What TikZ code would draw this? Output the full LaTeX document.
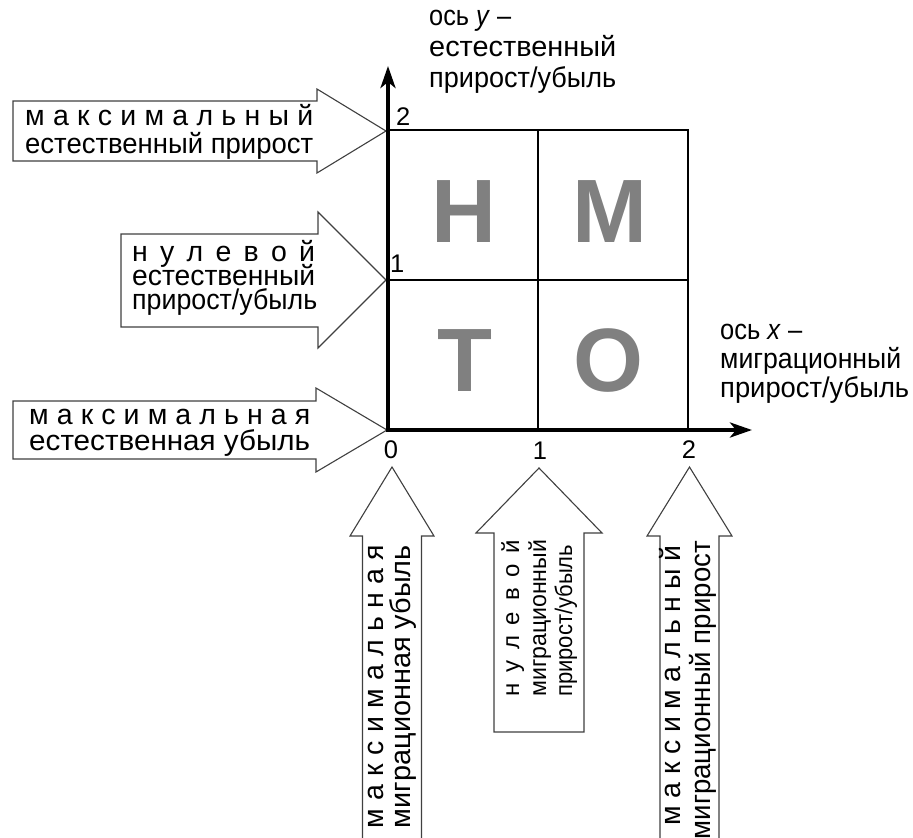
\documentclass[tikz,border=0pt]{standalone}
\usepackage{fontspec}
\usepackage{graphicx}
\setmainfont{Liberation Sans}
\usetikzlibrary{arrows.meta}
\newcommand\spreadto[2]{\makebox[#1][s]{#2}}
\newcommand\fitto[2]{\resizebox{#1}{\height}{#2}}
\begin{document}
\begin{tikzpicture}[x=1pt,y=-1pt,
  bigarrow/.style={draw=black!75, line width=1.1pt, fill=white, line join=miter},
  lbl/.style={inner sep=0pt, font=\fontsize{28.5}{31}\selectfont},
  lblsmall/.style={inner sep=0pt, font=\fontsize{24}{27}\selectfont},
  num/.style={inner sep=0pt, font=\fontsize{25.5}{28}\selectfont},
  bigletter/.style={inner sep=0pt, text=black!50, font=\fontsize{90}{90}\selectfont\bfseries},
  gridline/.style={line width=2pt, black},
  axisline/.style={line width=3.8pt, black, -{Stealth[length=22pt,width=15pt,inset=6pt]}}]
\useasboundingbox (0,0) rectangle (913,838);
\clip (0,0) rectangle (913,838);

% coordinates
\coordinate (O) at (388,430);
\coordinate (Ytop) at (388,130);
\coordinate (Xright) at (688,430);
\coordinate (TR) at (688,130);
\coordinate (Xmid) at (538,430);
\coordinate (Xmidtop) at (538,130);
\coordinate (Ymid) at (388,280);
\coordinate (Ymidright) at (688,280);
\coordinate (Ytip) at (388,66);
\coordinate (Xtip) at (752,430);
\coordinate (Ystart) at (388,432);
\coordinate (Xstart) at (386,430);

% left arrows
\draw[bigarrow] (13,101) -- (317,101) -- (317,89) -- (386,131) -- (317,173) -- (317,161) -- (13,161) -- cycle;
\draw[bigarrow] (121,234) -- (318,234) -- (318,212) -- (386,280) -- (318,348) -- (318,327) -- (121,327) -- cycle;
\draw[bigarrow] (13,401) -- (316,401) -- (316,388) -- (387,430) -- (316,472) -- (316,459) -- (13,459) -- cycle;

% bottom arrows
\draw[bigarrow] (362.5,850) -- (362.5,536) -- (350,536) -- (392,467) -- (434,536) -- (421.5,536) -- (421.5,850) -- cycle;
\draw[bigarrow] (494,732) -- (494,533) -- (476,533) -- (539,468) -- (602,533) -- (584,533) -- (584,732) -- cycle;
\draw[bigarrow] (660,850) -- (660,536) -- (647,536) -- (689.5,467) -- (732,536) -- (719,536) -- (719,850) -- cycle;

% grid
\draw[gridline] (Ytop) -- (TR) -- (Xright);
\draw[gridline] (Xmidtop) -- (Xmid);
\draw[gridline] (Ymid) -- (Ymidright);

% axes
\draw[axisline] (Ystart) -- (Ytip);
\draw[axisline] (Xstart) -- (Xtip);

% big letters
\node[bigletter, anchor=base] (H) at (464,242) {Н};
\node[bigletter, anchor=base] (M) at (610,242) {М};
\node[bigletter, anchor=base] (T) at (465,391) {Т};
\node[bigletter, anchor=base] (Ob) at (608,391) {О};

% numbers
\node[num, anchor=base west] (y2) at (396,125) {2};
\node[num, anchor=base west] (y1) at (390,272) {1};
\node[num, anchor=base] (x0) at (391,458) {0};
\node[num, anchor=base] (x1) at (540,459) {1};
\node[num, anchor=base] (x2) at (689,458) {2};

% axis labels
\node[lbl, anchor=base west] (ya) at (429,25) {\fitto{82pt}{ось \textit{y} –}};
\node[lbl, anchor=base west] (yb) at (429,56) {\fitto{187pt}{естественный}};
\node[lbl, anchor=base west] (yc) at (429,87) {\fitto{187pt}{прирост/убыль}};
\node[lbl, anchor=base west] (xa) at (720,339) {\fitto{82pt}{ось \textit{x} –}};
\node[lbl, anchor=base west] (xb) at (720,368) {\fitto{181pt}{миграционный}};
\node[lbl, anchor=base west] (xc) at (720,397) {\fitto{189pt}{прирост/убыль}};

% left arrow texts
\node[lbl, anchor=base west] (l1a) at (25,125) {\spreadto{288pt}{м а к с и м а л ь н ы й}};
\node[lbl, anchor=base west] (l1b) at (25,153) {\fitto{288pt}{естественный прирост}};
\node[lbl, anchor=base west] (l2a) at (132,261) {\spreadto{183pt}{н у л е в о й}};
\node[lbl, anchor=base west] (l2b) at (132,285) {\fitto{183pt}{естественный}};
\node[lbl, anchor=base west] (l2c) at (132,309) {\fitto{185pt}{прирост/убыль}};
\node[lbl, anchor=base west] (l3a) at (29,424) {\spreadto{281pt}{м а к с и м а л ь н а я}};
\node[lbl, anchor=base west] (l3b) at (29,450) {\fitto{281pt}{естественная убыль}};

% bottom arrow texts
\node[lbl, rotate=90, anchor=base east] (b1a) at (383,545) {\spreadto{283pt}{м а к с и м а л ь н а я}};
\node[lbl, rotate=90, anchor=base east] (b1b) at (410,545) {\fitto{283pt}{миграционная убыль}};
\node[lblsmall, rotate=90, anchor=base west] (b2a) at (519,697) {\spreadto{157pt}{н у л е в о й}};
\node[lblsmall, rotate=90, anchor=base west] (b2b) at (546,697) {\fitto{157pt}{миграционный}};
\node[lblsmall, rotate=90, anchor=base west] (b2c) at (572,697) {\fitto{152pt}{прирост/убыль}};
\node[lbl, rotate=90, anchor=base east] (b3a) at (680,545) {\spreadto{280pt}{м а к с и м а л ь н ы й}};
\node[lbl, rotate=90, anchor=base east] (b3b) at (710,541) {\fitto{298pt}{миграционный прирост}};
\end{tikzpicture}
\end{document}
